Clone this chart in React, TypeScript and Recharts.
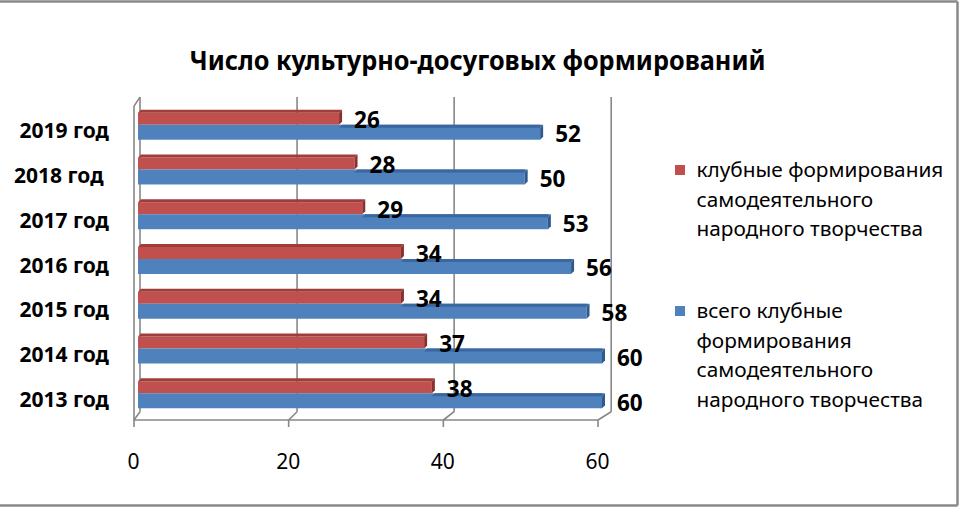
import React from 'react';
import { BarChart, Bar, XAxis, YAxis, CartesianGrid, LabelList } from 'recharts';

const YEARS = ['2019 год', '2018 год ', '2017 год', '2016 год', '2015 год', '2014 год', '2013 год'];
const CLUB = [26, 28, 29, 34, 34, 37, 38];
const TOTAL = [52, 50, 53, 56, 58, 60, 60];
const X_TICKS = [0, 20, 40, 60];
const TITLE = 'Число культурно-досуговых формирований';
const CLUB_LABEL_LINES = ['клубные формирования', 'самодеятельного', 'народного творчества'];
const TOTAL_LABEL_LINES = ['всего клубные', 'формирования', 'самодеятельного', 'народного творчества'];

const RED = '#C0504D';
const RED_TOP = '#9F3D3A';
const RED_SIDE = '#8A302D';
const BLUE = '#4F81BD';
const BLUE_TOP = '#3B67A0';
const BLUE_SIDE = '#2E5A8E';
const GRID = '#878787';
const FONT = '"Noto Sans", "Open Sans", sans-serif';

const rows = YEARS.map((year, i) => ({ year, club: CLUB[i], total: TOTAL[i] }));

const SERIES = [
  { key: 'club', name: CLUB_LABEL_LINES.join(' '), lines: CLUB_LABEL_LINES, color: RED },
  { key: 'total', name: TOTAL_LABEL_LINES.join(' '), lines: TOTAL_LABEL_LINES, color: BLUE },
];

const D = 3;

function makeShape(front: string, top: string, side: string, key: string) {
  return (props: any) => {
    const { x, y, width, height, payload } = props;
    if (width == null || isNaN(width)) return null;
    let topStart = x;
    if (key === 'total' && payload) topStart = x + (width * payload.club) / payload.total;
    const fy = key === 'total' ? y : y + D;
    return (
      <g>
        <rect x={x} y={fy} width={width} height={y + height - fy} fill={front} />
        <polygon
          points={`${topStart},${y + D} ${topStart + D},${y} ${x + width + D},${y} ${x + width},${y + D}`}
          fill={top}
        />
        <polygon
          points={`${x + width},${y + D} ${x + width + D},${y} ${x + width + D},${y + height - D} ${x + width},${y + height}`}
          fill={side}
        />
      </g>
    );
  };
}

const renderValue = (shift: number) => (props: any) => {
  const vb = props.viewBox || {};
  const x = props.x ?? vb.x;
  const y = props.y ?? vb.y;
  const w = props.width ?? vb.width;
  const h = props.height ?? vb.height;
  return (
    <text
      x={x + w + 15}
      y={y + h / 2 + shift}
      dy="0.35em"
      fontSize={22.5}
      fontWeight={700}
      fontFamily={FONT}
      fill="#000"
    >
      {props.value}
    </text>
  );
};

const YTick = (props: any) => {
  const { x, y, payload } = props;
  return (
    <text
      x={x}
      y={y + 6.5}
      dy="0.35em"
      textAnchor="end"
      fontSize={21}
      fontWeight={700}
      fontFamily={FONT}
      fill="#000"
      xmlSpace="preserve"
      style={{ whiteSpace: 'pre' }}
    >
      {payload.value}
    </text>
  );
};

const XTick = (props: any) => {
  const { x, y, payload } = props;
  return (
    <text x={x - 4.5} y={y} dy="0.35em" textAnchor="middle" fontSize={21} fontFamily={FONT} fill="#000">
      {payload.value}
    </text>
  );
};

const gridV = (p: any) => {
  const { x1, y1, y2 } = p;
  const idx = typeof p.index === 'number' ? p.index : 0;
  const bx = x1 + 2 + idx * 2.4;
  const fx = x1 - 4;
  const backBottom = y2 - 3.7;
  const front = y2 + 4.6;
  return (
    <g key={p.key} stroke={GRID} strokeWidth={1.6} fill="none">
      <line x1={bx} y1={y1 - 5} x2={bx} y2={backBottom} />
      <line x1={bx} y1={backBottom} x2={fx} y2={front} />
      <line x1={fx} y1={front} x2={fx} y2={y2 + 11.6} />
      {idx === 0 && (
        <>
          <line x1={fx} y1={y1 + 4} x2={fx} y2={front} />
          <line x1={fx} y1={y1 + 4} x2={bx} y2={y1 - 5} />
        </>
      )}
    </g>
  );
};

const gridH = (p: any) => {
  const yy = p.y1 + 4.6;
  return <line key={p.key} x1={p.x1 - 4} y1={yy} x2={p.x2 - 4} y2={yy} stroke={GRID} strokeWidth={1.6} />;
};

export default function App() {
  const legendStarts = [177, 318];
  return (
    <div style={{ position: 'absolute', left: 0, top: 0, width: 960, height: 510, background: '#fff' }}>
      <BarChart
        width={960}
        height={510}
        data={rows}
        layout="vertical"
        margin={{ top: 102.1, right: 358, bottom: 44.6, left: 0 }}
        barCategoryGap="17%"
        barGap={0}
      >
        <CartesianGrid
          vertical={gridV}
          horizontal={gridH}
          horizontalCoordinatesGenerator={({ offset }: any) => [offset.top + offset.height]}
        />
        <XAxis
          type="number"
          domain={[0, 60]}
          ticks={X_TICKS}
          axisLine={false}
          tickLine={false}
          tickSize={0}
          tickMargin={46}
          height={50}
          tick={<XTick />}
          interval={0}
        />
        <YAxis
          type="category"
          dataKey="year"
          width={138}
          axisLine={false}
          tickLine={false}
          tickSize={0}
          tickMargin={29}
          tick={<YTick />}
          interval={0}
        />
        <Bar dataKey="club" name={SERIES[0].name} fill={RED} shape={makeShape(RED, RED_TOP, RED_SIDE, 'club')} isAnimationActive={false}>
          <LabelList dataKey="club" content={renderValue(3)} />
        </Bar>
        <Bar dataKey="total" name={SERIES[1].name} fill={BLUE} shape={makeShape(BLUE, BLUE_TOP, BLUE_SIDE, 'total')} isAnimationActive={false}>
          <LabelList dataKey="total" content={renderValue(2)} />
        </Bar>
      </BarChart>
      <svg
        width={960}
        height={510}
        style={{ position: 'absolute', left: 0, top: 0, pointerEvents: 'none' }}
      >
        <text
          x={477.5}
          y={70}
          textAnchor="middle"
          fontSize={27}
          fontWeight={700}
          fontFamily={FONT}
          fill="#000"
          textLength={576}
          lengthAdjust="spacingAndGlyphs"
        >
          {TITLE}
        </text>
        {SERIES.map((s, si) => (
          <g key={s.key}>
            <rect x={675} y={legendStarts[si] - 12} width={10} height={10} fill={s.color} />
            {s.lines.map((ln, li) => (
              <text key={li} x={696.5} y={legendStarts[si] + li * 29.6} fontSize={20.8} fontFamily={FONT} fill="#000">
                {ln}
              </text>
            ))}
          </g>
        ))}
        <line x1={0} y1={1.5} x2={957.5} y2={1.5} stroke="#8a8a8a" strokeWidth={2.5} />
        <line x1={0} y1={505.5} x2={957.5} y2={505.5} stroke="#8a8a8a" strokeWidth={2.5} />
        <line x1={957.5} y1={1.5} x2={957.5} y2={505.5} stroke="#8a8a8a" strokeWidth={2.5} />
      </svg>
    </div>
  );
}
